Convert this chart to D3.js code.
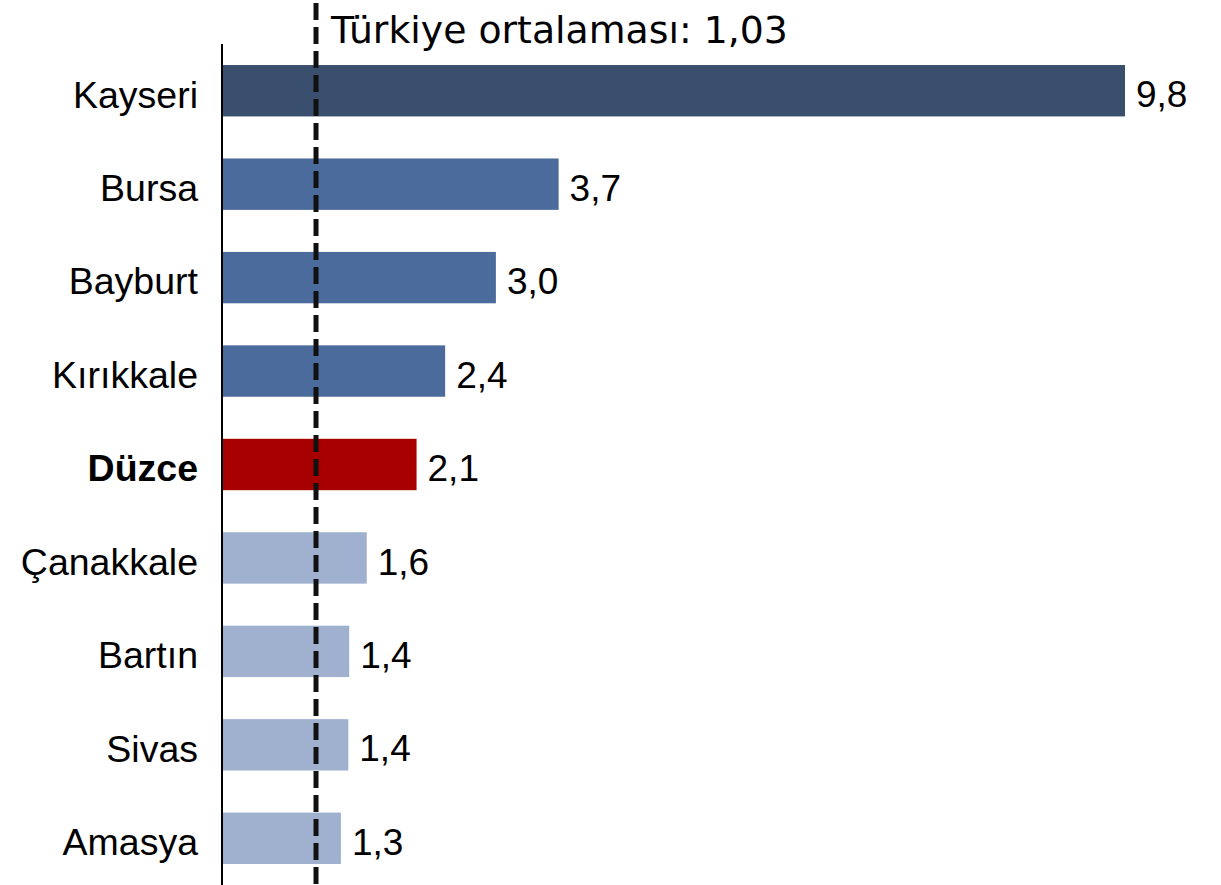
<!DOCTYPE html>
<html>
<head>
<meta charset="utf-8">
<script src="https://cdn.jsdelivr.net/npm/d3@7"></script>
<style>
  body { margin: 0; background: #fff; }
  svg { display: block; }
</style>
</head>
<body>
<div class="visual"></div>
<script>
// data
const provinces = ["Kayseri", "Bursa", "Bayburt", "Kırıkkale", "Düzce", "Çanakkale", "Bartın", "Sivas", "Amasya"];
const values = [9.8, 3.66, 2.98, 2.43, 2.12, 1.58, 1.39, 1.38, 1.30];
const groups = ["top", "mid", "mid", "mid", "focus", "low", "low", "low", "low"];
const turkeyAvg = 1.03;
const avgLabel = "Türkiye ortalaması: 1,03";

const width = 1221;
const height = 885;
const margin = {top: 44, bottom: 0, left: 221, right: 0};

const colors = {top: "#3a4f6e", mid: "#4a6b9b", focus: "#a80000", low: "#9fb1cf"};

const svg = d3.select(".visual")
  .append("svg")
  .attr("width", width)
  .attr("height", height);

const xScale = d3.scaleLinear().domain([0, 9.8]).range([margin.left, 1125]);
const yScale = d3.scaleBand()
  .domain(provinces)
  .range([margin.top, height - margin.bottom])
  .paddingInner(0.45)
  .paddingOuter(0.225);

const fmt = v => d3.format(".1f")(v).replace(".", ",");

// bars
svg.selectAll(".bar")
  .data(provinces)
  .enter()
  .append("rect")
  .attr("class", "bar")
  .attr("x", xScale(0))
  .attr("y", d => yScale(d))
  .attr("width", (d, i) => xScale(values[i]) - xScale(0))
  .attr("height", yScale.bandwidth())
  .attr("fill", (d, i) => colors[groups[i]]);

// value labels
svg.selectAll(".val")
  .data(provinces)
  .enter()
  .append("text")
  .attr("class", "val")
  .attr("x", (d, i) => xScale(values[i]) + 11)
  .attr("y", d => yScale(d) + yScale.bandwidth() / 2)
  .attr("dy", "0.45em")
  .style("font-family", "'Liberation Sans', Arial, sans-serif")
  .style("font-size", "37px")
  .style("fill", "#000")
  .text((d, i) => fmt(values[i]));

// category axis
const yAxis = d3.axisLeft(yScale).tickSize(0).tickPadding(24);
const gy = svg.append("g")
  .attr("transform", "translate(" + (margin.left + 1) + ",0)")
  .call(yAxis);
gy.select(".domain").attr("stroke", "#000").attr("stroke-width", 2).attr("d", "M0," + margin.top + "V" + height);
gy.selectAll("text")
  .attr("dy", "0.45em")
  .style("font-family", "'Liberation Sans', Arial, sans-serif")
  .style("font-size", "37.5px")
  .style("fill", "#000")
  .style("font-weight", (d, i) => groups[i] == "focus" ? "bold" : "normal");

// average line
svg.append("line")
  .attr("x1", xScale(turkeyAvg))
  .attr("x2", xScale(turkeyAvg))
  .attr("y1", 3)
  .attr("y2", height)
  .attr("stroke", "#111")
  .attr("stroke-width", 5)
  .attr("stroke-dasharray", "17,7");

svg.append("text")
  .attr("x", xScale(turkeyAvg) + 15)
  .attr("y", 43)
  .style("font-family", "'DejaVu Sans', Verdana, sans-serif")
  .style("font-size", "37.8px")
  .style("fill", "#000")
  .text(avgLabel);
</script>
</body>
</html>
